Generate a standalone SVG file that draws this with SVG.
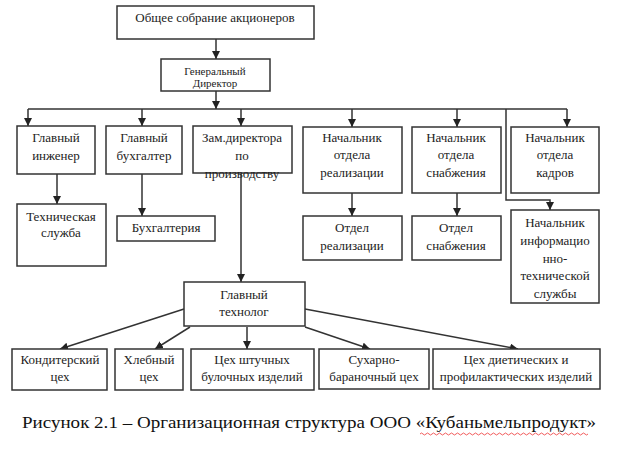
<svg xmlns="http://www.w3.org/2000/svg" width="619" height="452" viewBox="0 0 619 452">
<defs>
<style>
.box{fill:#fff;stroke:#333;stroke-width:1.5}
.t{font-family:'Liberation Serif','Times New Roman','DejaVu Serif',serif;font-size:13px;fill:#222;text-anchor:middle}
.s{font-size:11px}
.c{fill:none;stroke:#333;stroke-width:1.5}
.cap{font-family:'Liberation Serif','Times New Roman','DejaVu Serif',serif;font-size:17px;fill:#111}
</style>
<marker id="ar" viewBox="0 0 8 8" refX="8" refY="4" markerWidth="8" markerHeight="8" markerUnits="userSpaceOnUse" orient="auto">
<path d="M0,0 L8,4 L0,8 z" fill="#222"/>
</marker>
</defs>
<rect width="619" height="452" fill="#fff"/>
<g id="connectors">
<path class="c" d="M216,39 V59" marker-end="url(#ar)"/>
<path class="c" d="M216,91 V109" marker-end="url(#ar)"/>
<path class="c" d="M28,109 H567"/>
<path class="c" d="M28,109 V126" marker-end="url(#ar)"/>
<path class="c" d="M142,109 V126" marker-end="url(#ar)"/>
<path class="c" d="M241,109 V126" marker-end="url(#ar)"/>
<path class="c" d="M352,109 V127" marker-end="url(#ar)"/>
<path class="c" d="M457,109 V127" marker-end="url(#ar)"/>
<path class="c" d="M567,109 V127" marker-end="url(#ar)"/>
<path class="c" d="M506,109 V200 H550 V210" marker-end="url(#ar)"/>
<path class="c" d="M57,174 V204" marker-end="url(#ar)"/>
<path class="c" d="M142,174 V216" marker-end="url(#ar)"/>
<path class="c" d="M241,174 V282" marker-end="url(#ar)"/>
<path class="c" d="M352,193 V216" marker-end="url(#ar)"/>
<path class="c" d="M457,193 V216" marker-end="url(#ar)"/>
<path class="c" d="M184,309 L60,349" marker-end="url(#ar)"/>
<path class="c" d="M190,327 L155,349" marker-end="url(#ar)"/>
<path class="c" d="M247,327 V349" marker-end="url(#ar)"/>
<path class="c" d="M305,327 L370,349" marker-end="url(#ar)"/>
<path class="c" d="M305,309 L518,349" marker-end="url(#ar)"/>
</g>
<g id="n-sobranie"><rect class="box" x="117" y="6" width="197" height="33"/><text class="t" x="215" y="22">Общее собрание акционеров</text></g>
<g id="n-gendir"><rect class="box" x="161" y="59" width="109" height="32"/><text class="t s" x="215" y="75">Генеральный</text><text class="t s" x="215" y="87">Директор</text></g>
<g id="n-glinzh"><rect class="box" x="17" y="126" width="78" height="48"/><text class="t" x="56" y="142">Главный</text><text class="t" x="56" y="160">инженер</text></g>
<g id="n-glbuh"><rect class="box" x="106" y="126" width="76" height="48"/><text class="t" x="144" y="142">Главный</text><text class="t" x="144" y="160">бухгалтер</text></g>
<g id="n-zam"><rect class="box" x="193" y="126" width="99" height="47"/><text class="t" x="242" y="142">Зам.директора</text><text class="t" x="242" y="160">по</text><text class="t" x="242" y="178">производству</text></g>
<g id="n-realiz"><rect class="box" x="303" y="127" width="99" height="66"/><text class="t" x="352" y="142">Начальник</text><text class="t" x="352" y="159">отдела</text><text class="t" x="352" y="177">реализации</text></g>
<g id="n-snab"><rect class="box" x="412" y="127" width="89" height="66"/><text class="t" x="456" y="142">Начальник</text><text class="t" x="456" y="159">отдела</text><text class="t" x="456" y="177">снабжения</text></g>
<g id="n-kadry"><rect class="box" x="511" y="127" width="88" height="66"/><text class="t" x="555" y="142">Начальник</text><text class="t" x="555" y="159">отдела</text><text class="t" x="555" y="177">кадров</text></g>
<g id="n-tehsl"><rect class="box" x="17" y="204" width="89" height="62"/><text class="t" x="61" y="221">Техническая</text><text class="t" x="61" y="237">служба</text></g>
<g id="n-buh"><rect class="box" x="117" y="216" width="98" height="25"/><text class="t" x="166" y="232">Бухгалтерия</text></g>
<g id="n-otdreal"><rect class="box" x="303" y="216" width="99" height="44"/><text class="t" x="352" y="232">Отдел</text><text class="t" x="352" y="250">реализации</text></g>
<g id="n-otdsnab"><rect class="box" x="412" y="216" width="89" height="44"/><text class="t" x="456" y="232">Отдел</text><text class="t" x="456" y="250">снабжения</text></g>
<g id="n-info"><rect class="box" x="511" y="210" width="88" height="93"/><text class="t" x="555" y="227">Начальник</text><text class="t" x="555" y="245">информацио</text><text class="t" x="555" y="263">нно-</text><text class="t" x="555" y="280">технической</text><text class="t" x="555" y="298">службы</text></g>
<g id="n-tehnolog"><rect class="box" x="184" y="282" width="121" height="44"/><text class="t" x="244" y="299">Главный</text><text class="t" x="244" y="316">технолог</text></g>
<g id="n-kond"><rect class="box" x="12" y="349" width="95" height="41"/><text class="t" x="60" y="364">Кондитерский</text><text class="t" x="60" y="381">цех</text></g>
<g id="n-hleb"><rect class="box" x="115" y="349" width="68" height="41"/><text class="t" x="149" y="364">Хлебный</text><text class="t" x="149" y="381">цех</text></g>
<g id="n-bul"><rect class="box" x="191" y="349" width="123" height="41"/><text class="t" x="252" y="364">Цех штучных</text><text class="t" x="252" y="381">булочных изделий</text></g>
<g id="n-suh"><rect class="box" x="319" y="349" width="110" height="40"/><text class="t" x="374" y="364">Сухарно-</text><text class="t" x="374" y="381">бараночный цех</text></g>
<g id="n-diet"><rect class="box" x="433" y="349" width="167" height="40"/><text class="t" x="516" y="364">Цех диетических и</text><text class="t" x="516" y="381">профилактических изделий</text></g>
<text class="cap" x="22" y="428" textLength="574" lengthAdjust="spacingAndGlyphs">Рисунок 2.1 – Организационная структура ООО «Кубаньмельпродукт»</text>
<path d="M420,434 q1.5,-2 3,0 t3,0 t3,0 t3,0 t3,0 t3,0 t3,0 t3,0 t3,0 t3,0 t3,0 t3,0 t3,0 t3,0 t3,0 t3,0 t3,0 t3,0 t3,0 t3,0 t3,0 t3,0 t3,0 t3,0 t3,0 t3,0 t3,0 t3,0 t3,0 t3,0 t3,0 t3,0 t3,0 t3,0 t3,0 t3,0 t3,0 t3,0 t3,0 t3,0 t3,0 t3,0 t3,0 t3,0 t3,0 t3,0 t3,0 t3,0 t3,0 t3,0 t3,0 t3,0 t3,0 t3,0 t3,0 t3,0" fill="none" stroke="#e33" stroke-width="0.8"/>
</svg>
